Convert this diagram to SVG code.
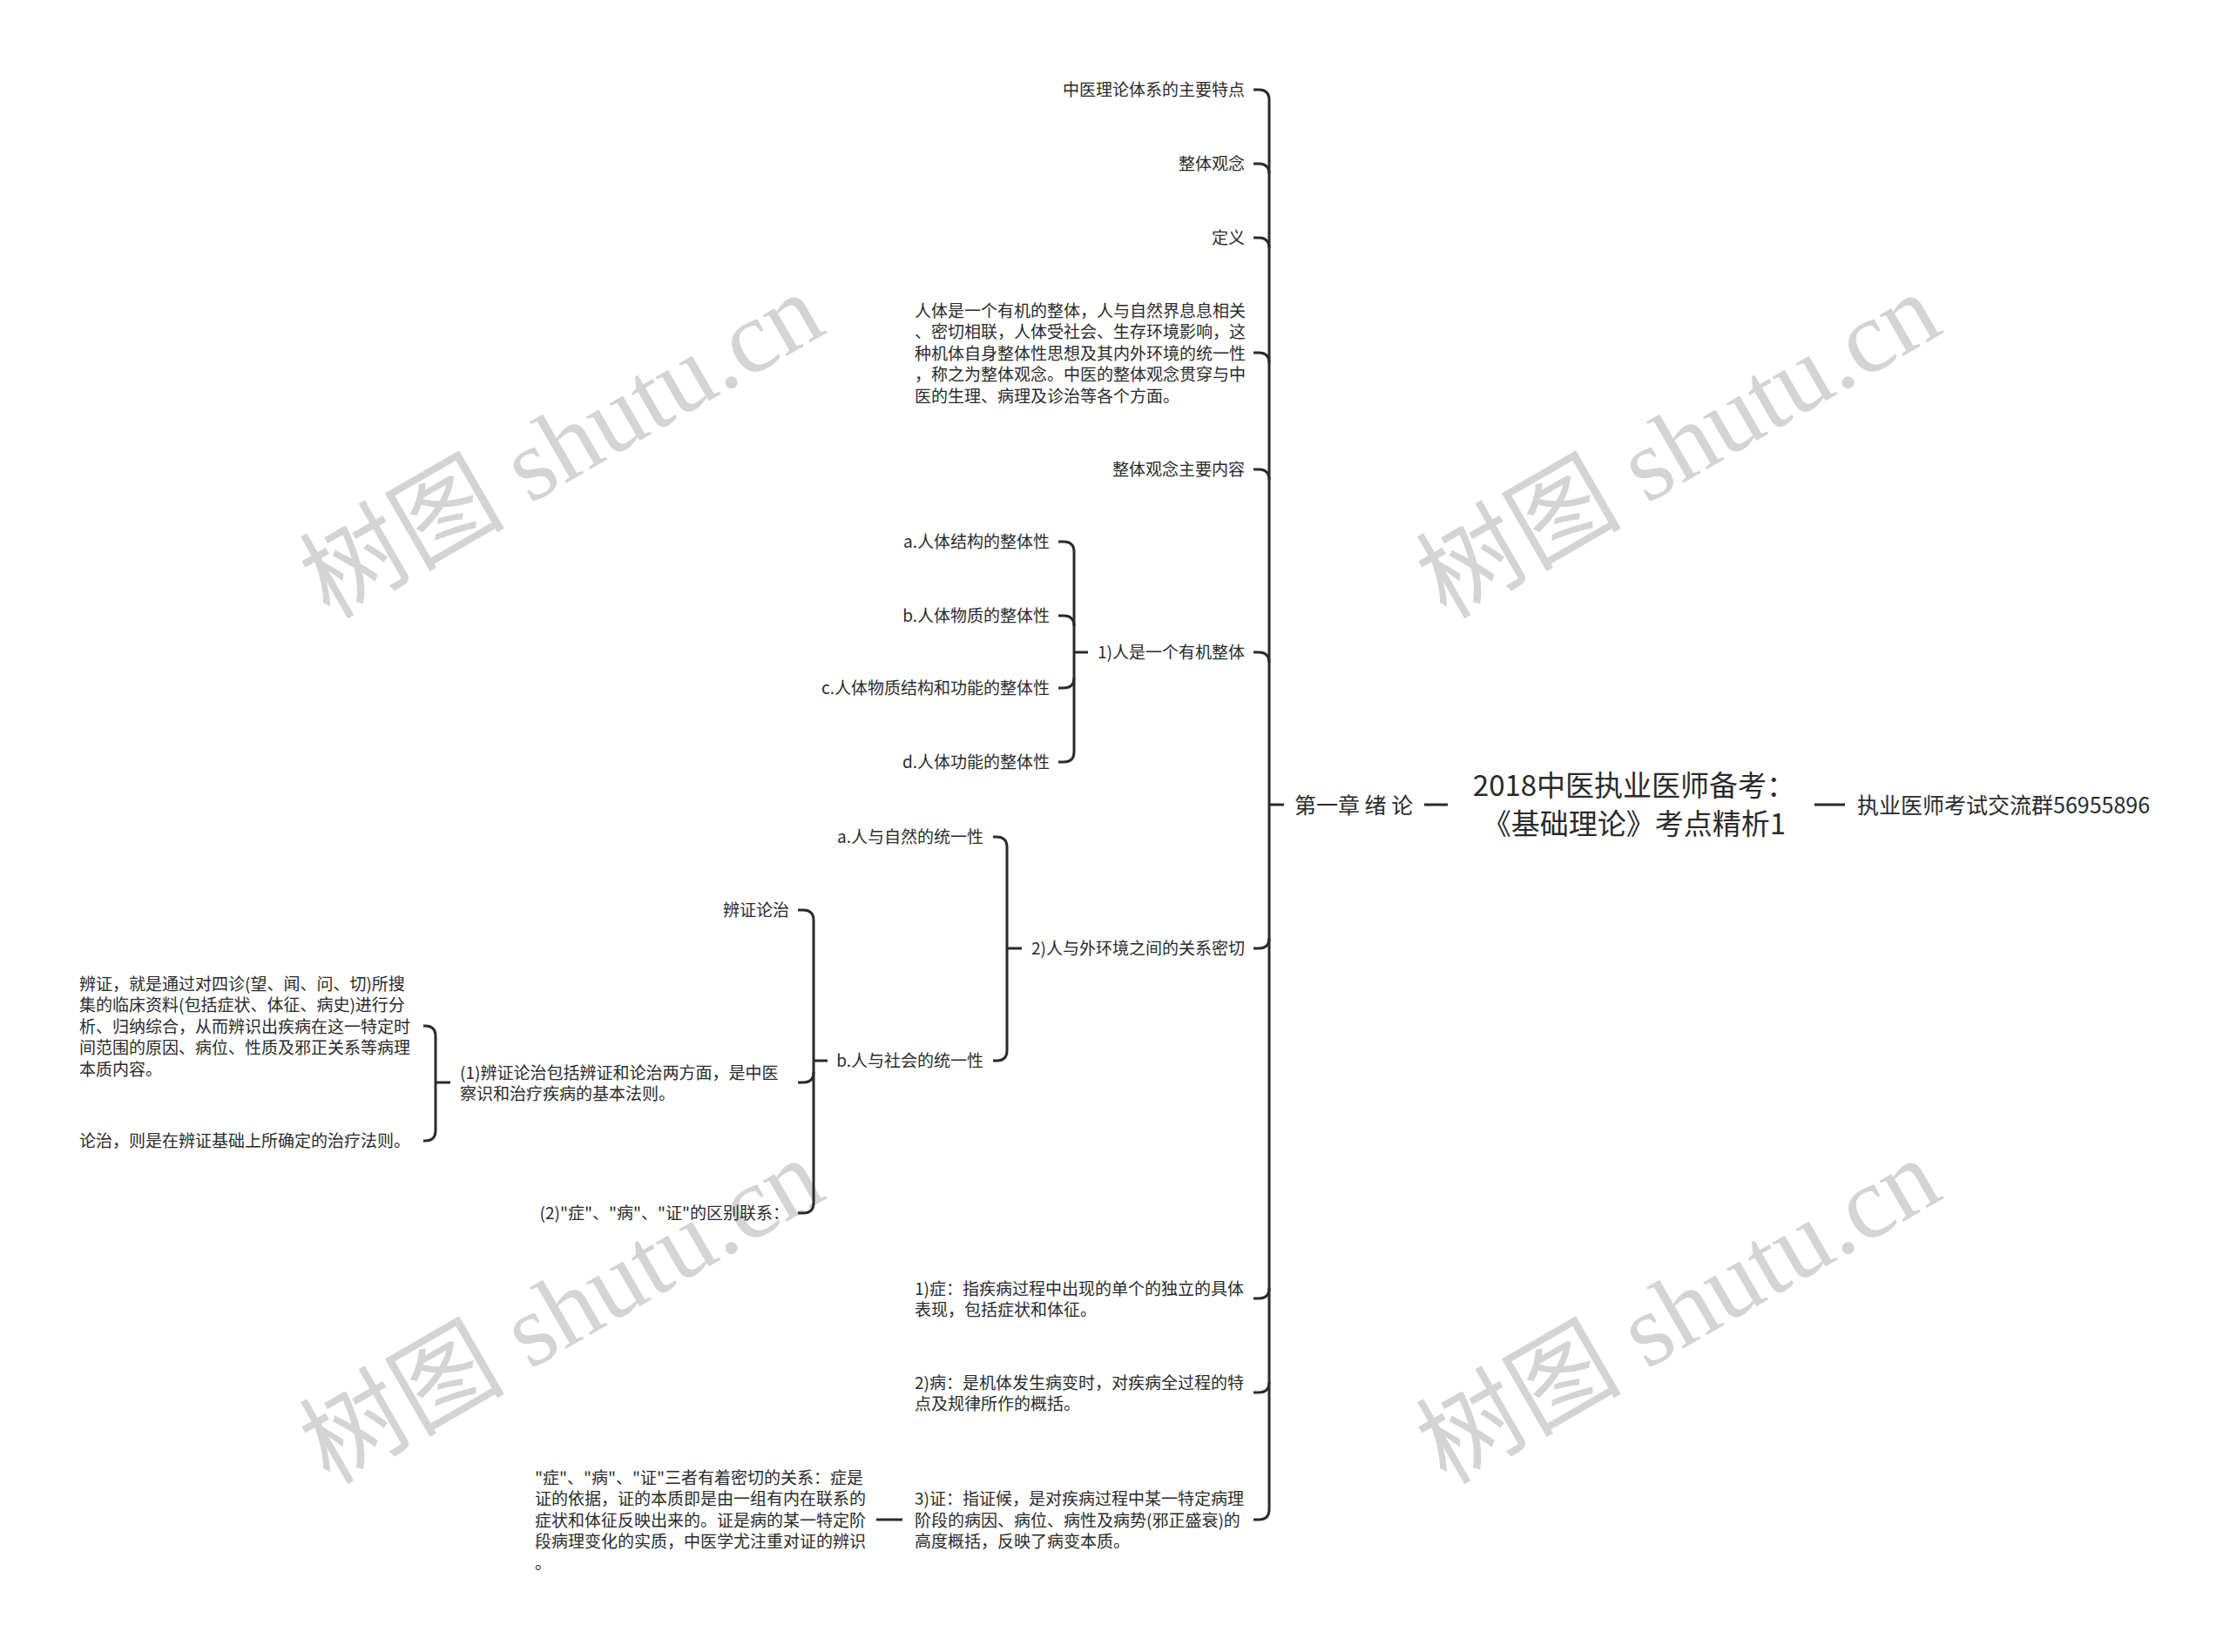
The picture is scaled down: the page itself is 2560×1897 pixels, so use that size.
<svg xmlns="http://www.w3.org/2000/svg" width="2560" height="1897" viewBox="0 0 2560 1897">
<style>
.t{font-family:"Noto Sans CJK SC","Noto Sans",sans-serif;font-size:19px;fill:#2a2a2a;dominant-baseline:central;transform:translateY(-1.5px)}
.e{text-anchor:end}
.m{font-size:25px}
.root{font-size:33px;text-anchor:middle}
.c{fill:none;stroke:#2a2a2a;stroke-width:3;stroke-linecap:butt}
.wm{font-family:"Liberation Serif","Noto Sans CJK SC",serif;font-size:118px;fill:#d4d4d4;text-anchor:middle;dominant-baseline:central}
</style>
<rect width="2560" height="1897" fill="#ffffff"/>
<g id="watermarks">
<text class="wm" transform="translate(645,512) rotate(-30)">树图 shutu.cn</text>
<text class="wm" transform="translate(1927,512) rotate(-30)">树图 shutu.cn</text>
<text class="wm" transform="translate(645,1506) rotate(-30)">树图 shutu.cn</text>
<text class="wm" transform="translate(1927,1506) rotate(-30)">树图 shutu.cn</text>
</g>
<g id="connectors">
<path class="c" d="M1457,115 V1733"/>
<path class="c" d="M1439,103 H1445 Q1457,103 1457,115"/>
<path class="c" d="M1439,188 H1445 Q1457,188 1457,200"/>
<path class="c" d="M1439,273 H1445 Q1457,273 1457,285"/>
<path class="c" d="M1439,405 H1445 Q1457,405 1457,417"/>
<path class="c" d="M1439,539 H1445 Q1457,539 1457,551"/>
<path class="c" d="M1439,749 H1445 Q1457,749 1457,761"/>
<path class="c" d="M1439,1089 H1445 Q1457,1089 1457,1077"/>
<path class="c" d="M1439,1491 H1445 Q1457,1491 1457,1479"/>
<path class="c" d="M1439,1599 H1445 Q1457,1599 1457,1587"/>
<path class="c" d="M1439,1745 H1445 Q1457,1745 1457,1733"/>
<path class="c" d="M1457,924 H1474"/>
<path class="c" d="M1635,924 H1662"/>
<path class="c" d="M2083,924 H2118"/>
<path class="c" d="M1233,634 V863"/>
<path class="c" d="M1215,622 H1221 Q1233,622 1233,634"/>
<path class="c" d="M1215,707 H1221 Q1233,707 1233,719"/>
<path class="c" d="M1215,790 H1221 Q1233,790 1233,778"/>
<path class="c" d="M1215,875 H1221 Q1233,875 1233,863"/>
<path class="c" d="M1233,749 H1249"/>
<path class="c" d="M1156,973 V1206"/>
<path class="c" d="M1140,961 H1144 Q1156,961 1156,973"/>
<path class="c" d="M1140,1218 H1144 Q1156,1218 1156,1206"/>
<path class="c" d="M1156,1089 H1173"/>
<path class="c" d="M934,1057 V1381"/>
<path class="c" d="M916,1045 H922 Q934,1045 934,1057"/>
<path class="c" d="M916,1243 H922 Q934,1243 934,1231"/>
<path class="c" d="M916,1393 H922 Q934,1393 934,1381"/>
<path class="c" d="M934,1218 H950"/>
<path class="c" d="M500,1190 V1298"/>
<path class="c" d="M486,1178 H488 Q500,1178 500,1190"/>
<path class="c" d="M486,1310 H488 Q500,1310 500,1298"/>
<path class="c" d="M500,1243 H517"/>
<path class="c" d="M1006,1745 H1036"/>
</g>
<g id="root"><text class="t root"><tspan x="1876" y="901">2018中医执业医师备考：</tspan><tspan x="1876" y="945">《基础理论》考点精析1</tspan></text></g>
<g id="n-chapter"><text class="t m" x="1486" y="924">第一章 绪 论</text></g>
<g id="n-group"><text class="t m" x="2132" y="924">执业医师考试交流群56955896</text></g>
<g id="n1"><text class="t e" x="1429" y="103">中医理论体系的主要特点</text></g>
<g id="n2"><text class="t e" x="1429" y="188">整体观念</text></g>
<g id="n3"><text class="t e" x="1429" y="273">定义</text></g>
<g id="n4"><text class="t"><tspan x="1050" y="356">人体是一个有机的整体，人与自然界息息相关</tspan><tspan x="1050" y="380.5">、密切相联，人体受社会、生存环境影响，这</tspan><tspan x="1050" y="405">种机体自身整体性思想及其内外环境的统一性</tspan><tspan x="1050" y="429.5">，称之为整体观念。中医的整体观念贯穿与中</tspan><tspan x="1050" y="454">医的生理、病理及诊治等各个方面。</tspan></text></g>
<g id="n5"><text class="t e" x="1429" y="539">整体观念主要内容</text></g>
<g id="n6"><text class="t e" x="1429" y="749">1)人是一个有机整体</text></g>
<g id="n6a"><text class="t e" x="1205" y="622">a.人体结构的整体性</text></g>
<g id="n6b"><text class="t e" x="1205" y="707">b.人体物质的整体性</text></g>
<g id="n6c"><text class="t e" x="1205" y="790">c.人体物质结构和功能的整体性</text></g>
<g id="n6d"><text class="t e" x="1205" y="875">d.人体功能的整体性</text></g>
<g id="n7"><text class="t e" x="1429" y="1089">2)人与外环境之间的关系密切</text></g>
<g id="n7a"><text class="t e" x="1129" y="961">a.人与自然的统一性</text></g>
<g id="n7b"><text class="t e" x="1129" y="1218">b.人与社会的统一性</text></g>
<g id="n7b1"><text class="t e" x="906" y="1045">辨证论治</text></g>
<g id="n7b2"><text class="t"><tspan x="528" y="1231">(1)辨证论治包括辨证和论治两方面，是中医</tspan><tspan x="528" y="1255.5">察识和治疗疾病的基本法则。</tspan></text></g>
<g id="n7b2a"><text class="t"><tspan x="91" y="1129">辨证，就是通过对四诊(望、闻、问、切)所搜</tspan><tspan x="91" y="1153.5">集的临床资料(包括症状、体征、病史)进行分</tspan><tspan x="91" y="1178">析、归纳综合，从而辨识出疾病在这一特定时</tspan><tspan x="91" y="1202.5">间范围的原因、病位、性质及邪正关系等病理</tspan><tspan x="91" y="1227">本质内容。</tspan></text></g>
<g id="n7b2b"><text class="t" x="91" y="1310">论治，则是在辨证基础上所确定的治疗法则。</text></g>
<g id="n7b3"><text class="t e" x="906" y="1393">(2)"症"、"病"、"证"的区别联系：</text></g>
<g id="n8"><text class="t"><tspan x="1050" y="1479">1)症：指疾病过程中出现的单个的独立的具体</tspan><tspan x="1050" y="1503.5">表现，包括症状和体征。</tspan></text></g>
<g id="n9"><text class="t"><tspan x="1050" y="1587">2)病：是机体发生病变时，对疾病全过程的特</tspan><tspan x="1050" y="1611.5">点及规律所作的概括。</tspan></text></g>
<g id="n10"><text class="t"><tspan x="1050" y="1720.5">3)证：指证候，是对疾病过程中某一特定病理</tspan><tspan x="1050" y="1745">阶段的病因、病位、病性及病势(邪正盛衰)的</tspan><tspan x="1050" y="1769.5">高度概括，反映了病变本质。</tspan></text></g>
<g id="n10a"><text class="t"><tspan x="614" y="1696">"症"、"病"、"证"三者有着密切的关系：症是</tspan><tspan x="614" y="1720.5">证的依据，证的本质即是由一组有内在联系的</tspan><tspan x="614" y="1745">症状和体征反映出来的。证是病的某一特定阶</tspan><tspan x="614" y="1769.5">段病理变化的实质，中医学尤注重对证的辨识</tspan><tspan x="614" y="1794">。</tspan></text></g>
</svg>
